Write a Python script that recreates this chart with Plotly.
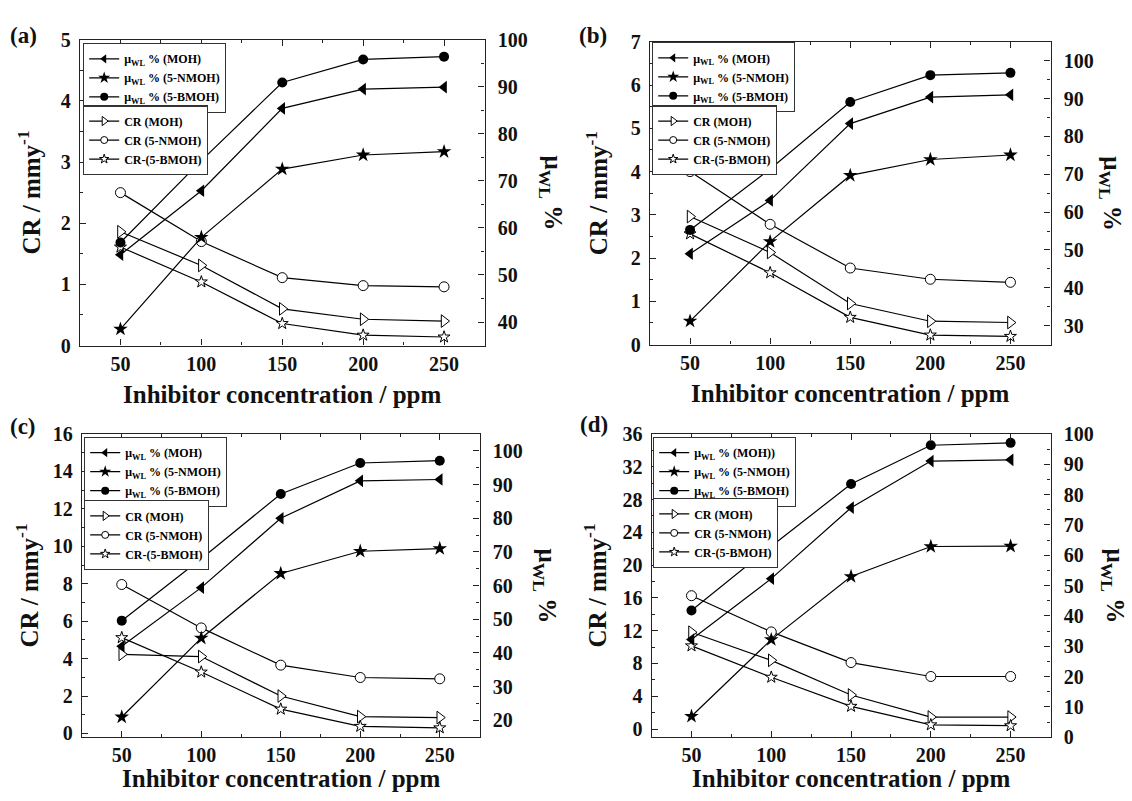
import plotly.graph_objects as go

W, H = 1132, 801

conc = [50, 100, 150, 200, 250]
x_ticks = [50, 100, 150, 200, 250]

# panel (a)
mu_moh_a = [54.3, 67.9, 85.4, 89.5, 89.9]
mu_nmoh_a = [38.5, 58.0, 72.5, 75.5, 76.2]
mu_bmoh_a = [56.9, 74.3, 90.9, 95.8, 96.4]
cr_moh_a = [1.86, 1.31, 0.60, 0.43, 0.40]
cr_nmoh_a = [2.50, 1.70, 1.11, 0.98, 0.96]
cr_bmoh_a = [1.61, 1.04, 0.36, 0.17, 0.14]

# panel (b)
mu_moh_b = [49.0, 63.1, 83.4, 90.4, 91.0]
mu_nmoh_b = [31.2, 52.2, 69.7, 73.9, 75.1]
mu_bmoh_b = [55.3, 71.4, 89.1, 96.2, 96.8]
cr_moh_b = [2.96, 2.13, 0.95, 0.54, 0.51]
cr_nmoh_b = [4.00, 2.78, 1.77, 1.51, 1.44]
cr_bmoh_b = [2.56, 1.66, 0.63, 0.22, 0.19]

# panel (c)
mu_moh_c = [42.0, 59.4, 80.0, 91.1, 91.5]
mu_nmoh_c = [21.0, 44.4, 63.6, 70.2, 71.0]
mu_bmoh_c = [49.6, 68.0, 87.2, 96.4, 97.1]
cr_moh_c = [4.23, 4.11, 2.00, 0.90, 0.85]
cr_nmoh_c = [7.96, 5.64, 3.65, 2.99, 2.92]
cr_bmoh_c = [5.12, 3.28, 1.30, 0.38, 0.30]

# panel (d)
mu_moh_d = [32.2, 52.3, 75.7, 91.1, 91.5]
mu_nmoh_d = [6.9, 32.2, 53.0, 62.9, 63.0]
mu_bmoh_d = [41.8, 63.0, 83.5, 96.3, 97.1]
cr_moh_d = [11.81, 8.38, 4.15, 1.46, 1.46]
cr_nmoh_d = [16.27, 11.85, 8.11, 6.41, 6.41]
cr_bmoh_d = [10.15, 6.32, 2.77, 0.51, 0.40]

mu_names_std = ["μ<sub>WL</sub> % (MOH)", "μ<sub>WL</sub> % (5-NMOH)", "μ<sub>WL</sub> % (5-BMOH)"]
mu_names_d = ["μ<sub>WL</sub> % (MOH))", "μ<sub>WL</sub> % (5-NMOH)", "μ<sub>WL</sub> % (5-BMOH)"]
cr_names = ["CR (MOH)", "CR (5-NMOH)", "CR-(5-BMOH)"]

FONT = "Liberation Serif, Times New Roman, serif"

panels = [
    dict(label="(a)", mu=[mu_moh_a, mu_nmoh_a, mu_bmoh_a], cr=[cr_moh_a, cr_nmoh_a, cr_bmoh_a],
         mu_names=mu_names_std, xd=(80, 484.5), yd=(29.5, 344),
         yl=dict(range=[0, 5], dtick=1, minor=0.5), yr=dict(range=[35, 100], dtick=10, minor=5),
         lbl=(23, 25), ltitle_x=29, rtitle_x=551, leg1=(83, 33), leg2=(83, 97)),
    dict(label="(b)", mu=[mu_moh_b, mu_nmoh_b, mu_bmoh_b], cr=[cr_moh_b, cr_nmoh_b, cr_bmoh_b],
         mu_names=mu_names_std, xd=(650, 1050.5), yd=(31.7, 343),
         yl=dict(range=[0, 7], dtick=1, minor=0.5), yr=dict(range=[25, 105], dtick=10, minor=5),
         lbl=(593, 25), ltitle_x=597, rtitle_x=1111, leg1=(652, 32), leg2=(652, 97)),
    dict(label="(c)", mu=[mu_moh_c, mu_nmoh_c, mu_bmoh_c], cr=[cr_moh_c, cr_nmoh_c, cr_bmoh_c],
         mu_names=mu_names_std, xd=(82, 479.5), yd=(435, 746.7),
         yl=dict(range=[-0.2, 16], dtick=2, minor=1), yr=dict(range=[15, 105], dtick=10, minor=5),
         lbl=(23, 427), ltitle_x=27, rtitle_x=545, leg1=(84, 438), leg2=(84, 503)),
    dict(label="(d)", mu=[mu_moh_d, mu_nmoh_d, mu_bmoh_d], cr=[cr_moh_d, cr_nmoh_d, cr_bmoh_d],
         mu_names=mu_names_d, xd=(651.6, 1050.5), yd=(435, 746.7),
         yl=dict(range=[-1, 36], dtick=4, minor=2), yr=dict(range=[0, 100], dtick=10, minor=5),
         lbl=(594, 425), ltitle_x=595, rtitle_x=1113, leg1=(653, 438), leg2=(653, 501)),
]

mu_symbols = ["triangle-left", "star", "circle"]
mu_sizes = [11, 11, 10]
cr_symbols = ["triangle-right", "circle", "star"]
cr_sizes = [11, 10, 9]
leg_mu_sizes = [8, 9, 8]
leg_cr_sizes = [8, 7, 7]

def mu_marker(k, s):
    return dict(symbol=mu_symbols[k], size=s, color="black")

def cr_marker(k, s):
    return dict(symbol=cr_symbols[k], size=s, color="white", line=dict(color="black", width=1))

def px(x):
    return x / W

def py(y):
    return 1 - y / H

fig = go.Figure()
layout = dict(width=W, height=H, margin=dict(l=0, r=0, t=0, b=0),
              paper_bgcolor="white", plot_bgcolor="white",
              font=dict(family=FONT, size=20, color="black", weight="bold"),
              showlegend=True, annotations=[])

axis_common = dict(showline=True, linecolor="#222", linewidth=1.4, ticks="inside",
                   ticklen=6, tickwidth=1.3, tickcolor="#222", showgrid=False, zeroline=False,
                   tickfont=dict(family=FONT, size=20, color="#111", weight="bold"))

LINE = dict(color="black", width=1.2)

for i, p in enumerate(panels):
    xn = "" if i == 0 else str(i + 1)
    yl_n = "" if i == 0 else str(2 * i + 1)
    yr_n = str(2 * i + 2)
    l1 = "legend" if i == 0 else f"legend{2 * i + 1}"
    l2 = f"legend{2 * i + 2}"

    # data traces
    for k in range(3):
        fig.add_trace(go.Scatter(x=conc, y=p["cr"][k], name=cr_names[k], mode="lines+markers",
                                 line=LINE, marker=cr_marker(k, cr_sizes[k]), showlegend=False,
                                 xaxis="x" + xn, yaxis="y" + yl_n))
    for k in range(3):
        fig.add_trace(go.Scatter(x=conc, y=p["mu"][k], name=p["mu_names"][k], mode="lines+markers",
                                 line=LINE, marker=mu_marker(k, mu_sizes[k]), showlegend=False,
                                 xaxis="x" + xn, yaxis="y" + yr_n))
    # legend entries (smaller symbols, as in the reference legend boxes)
    for k in range(3):
        fig.add_trace(go.Scatter(x=[None], y=[None], name=p["mu_names"][k], mode="lines+markers",
                                 line=LINE, marker=mu_marker(k, leg_mu_sizes[k]),
                                 xaxis="x" + xn, yaxis="y" + yr_n, legend=l1))
    for k in range(3):
        fig.add_trace(go.Scatter(x=[None], y=[None], name=cr_names[k], mode="lines+markers",
                                 line=LINE, marker=cr_marker(k, leg_cr_sizes[k]),
                                 xaxis="x" + xn, yaxis="y" + yl_n, legend=l2))

    layout["xaxis" + xn] = dict(axis_common, domain=[px(p["xd"][0]), px(p["xd"][1])],
                                anchor="y" + yl_n, range=[25, 275], tickvals=x_ticks,
                                mirror="ticks", minor=dict(dtick=25, tick0=0, ticks="inside", ticklen=3,
                                                           tickcolor="#222", tickwidth=1.2))
    layout["yaxis" + yl_n] = dict(axis_common, domain=[py(p["yd"][1]), py(p["yd"][0])],
                                  anchor="x" + xn, range=p["yl"]["range"], dtick=p["yl"]["dtick"],
                                  tick0=0, ticklabelstandoff=4,
                                  minor=dict(dtick=p["yl"]["minor"], tick0=0, ticks="inside", ticklen=3,
                                             tickcolor="#222", tickwidth=1.2))
    layout["yaxis" + yr_n] = dict(axis_common, overlaying="y" + yl_n, anchor="x" + xn, side="right",
                                  range=p["yr"]["range"], dtick=p["yr"]["dtick"], tick0=0,
                                  ticklabelstandoff=8,
                                  minor=dict(dtick=p["yr"]["minor"], tick0=0, ticks="inside", ticklen=3,
                                             tickcolor="#222", tickwidth=1.2))

    leg_common = dict(xanchor="left", yanchor="top", bgcolor="white", bordercolor="#333",
                      borderwidth=1.2, font=dict(family=FONT, size=12, color="black", weight="bold"),
                      itemwidth=30, tracegroupgap=0, itemclick=False, itemdoubleclick=False)
    layout[l1] = dict(leg_common, x=px(p["leg1"][0]), y=py(p["leg1"][1]))
    layout[l2] = dict(leg_common, x=px(p["leg2"][0]), y=py(p["leg2"][1]))

    xc = (p["xd"][0] + p["xd"][1]) / 2
    yc = (p["yd"][0] + p["yd"][1]) / 2
    xt_y = p["yd"][1] + 50 if i < 2 else p["yd"][1] + 42
    anns = layout["annotations"]
    anns.append(dict(text="Inhibitor concentration / ppm", x=px(xc), y=py(xt_y), xref="paper", yref="paper",
                     showarrow=False, xanchor="center", yanchor="middle",
                     font=dict(family=FONT, size=25, color="#111", weight="bold")))
    anns.append(dict(text="CR / mmy<sup>-1</sup>", x=px(p["ltitle_x"]), y=py(yc), xref="paper", yref="paper",
                     showarrow=False, textangle=-90, xanchor="center", yanchor="middle",
                     font=dict(family=FONT, size=25, color="#111", weight="bold")))
    anns.append(dict(text="μ<sub>WL</sub> %", x=px(p["rtitle_x"]), y=py(yc), xref="paper", yref="paper",
                     showarrow=False, textangle=90, xanchor="center", yanchor="middle",
                     font=dict(family=FONT, size=25, color="#111", weight="bold")))
    anns.append(dict(text=p["label"], x=px(p["lbl"][0]), y=py(p["lbl"][1]), xref="paper", yref="paper",
                     showarrow=False, xanchor="center", yanchor="middle",
                     font=dict(family=FONT, size=23, color="#111", weight="bold")))

fig.update_layout(**layout)
fig.write_html("out.html")
